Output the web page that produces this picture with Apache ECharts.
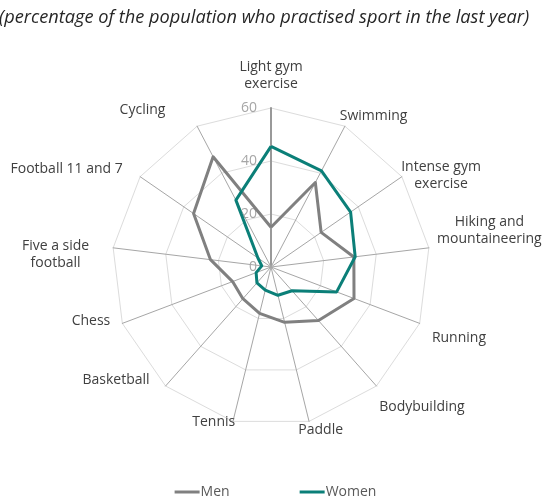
<!DOCTYPE html>
<html>
<head>
<meta charset="utf-8">
<script src="https://cdn.jsdelivr.net/npm/echarts@6/dist/echarts.min.js"></script>
<style>
  html, body { margin: 0; padding: 0; background: #fff; }
  #chart { width: 551px; height: 497px; }
</style>
</head>
<body>
<div id="chart"></div>
<script>
// Sports, listed clockwise from the top of the radar
const sports = [
  'Light gym\nexercise', 'Swimming', 'Intense gym\nexercise', 'Hiking and\nmountaineering',
  'Running', 'Bodybuilding', 'Paddle', 'Tennis', 'Basketball', 'Chess',
  'Five a side\nfootball', 'Football 11 and 7', 'Cycling'
];
// Share of population (%) per sport, same order as above
const men   = [15, 36, 23, 31.5, 33.5, 27, 21.5, 18, 16, 15.5, 23, 35.5, 47];
const women = [45.5, 41, 36.5, 32, 26.5, 12, 11, 9, 8, 6, 3.5, 6, 28.5];
const seriesNames = ['Men', 'Women'];
const axisMax = 60;
const axisSplits = 3;

// Label placement: distance past the rim, and nudge [dx, dy] of each name
const nameLayout = [
  [32, [0, 0]], [23, [18, 10]], [33, [12, 18]], [62, [-1, -10]],
  [42, [0, 0]], [46, [15, -13]], [11, [9, -2]], [5, [-18, -4]],
  [28, [-31, -27]], [40, [6, -17]], [56, [-2, 13]], [65, [-20, 29]],
  [40, [-36, 19]]
];

const FONT = 'Open Sans';
const NAME_LINE = 17;

// The radar lays axes out counter-clockwise, so keep the first axis and reverse the rest
const order = [0].concat(sports.map((_, i) => i).slice(1).reverse());

const indicators = order.map(i => {
  const [gap, [dx, dy]] = nameLayout[i];
  const blockH = sports[i].split('\n').length * NAME_LINE;
  const ind = {
    name: sports[i],
    min: 0,
    max: axisMax,
    nameGap: gap,
    nameTextStyle: {
      align: 'center',
      verticalAlign: 'top',
      // top padding centres the block on the anchor and then moves it by dy
      padding: [dy - blockH / 2, Math.max(0, -2 * dx), 0, Math.max(0, 2 * dx)]
    }
  };
  if (i === 0) {
    ind.axisLabel = {
      show: true,
      color: '#a6a6a6',
      fontSize: 14,
      fontFamily: FONT,
      align: 'right',
      margin: 14
    };
    ind.axisLine = { lineStyle: { color: '#999999', width: 2 } };
  }
  return ind;
});

const reorder = arr => order.map(i => arr[i]);

const chart = echarts.init(document.getElementById('chart'), null, { renderer: 'canvas' });
chart.setOption({
  animation: false,
  backgroundColor: '#ffffff',
  title: {
    text: '(percentage of the population who practised sport in the last year)',
    left: -6,
    top: 4,
    textStyle: {
      fontFamily: FONT,
      fontStyle: 'italic',
      fontWeight: 'normal',
      fontSize: 18.2,
      color: '#262626'
    }
  },
  legend: {
    data: seriesNames.map(n => ({ name: n, icon: 'rect' })),
    bottom: -7,
    left: 'center',
    itemWidth: 25,
    itemHeight: 3,
    itemGap: 70,
    textStyle: { fontFamily: FONT, fontSize: 14, color: '#595959', padding: [0, 0, 0, -4] }
  },
  radar: {
    center: [271, 267],
    radius: 159,
    startAngle: 90,
    splitNumber: axisSplits,
    shape: 'polygon',
    indicator: indicators,
    axisName: {
      color: '#404040',
      fontFamily: FONT,
      fontSize: 14,
      lineHeight: NAME_LINE
    },
    axisLine: { lineStyle: { color: '#a6a6a6', width: 1 } },
    splitLine: { lineStyle: { color: '#dcdcdc', width: 1 } },
    splitArea: { show: false },
    axisTick: { show: false },
    axisLabel: { show: false }
  },
  series: [{
    type: 'radar',
    symbol: 'none',
    data: [
      { name: seriesNames[0], value: reorder(men),
        lineStyle: { color: '#808080', width: 3 }, itemStyle: { color: '#808080' } },
      { name: seriesNames[1], value: reorder(women),
        lineStyle: { color: '#0b7f78', width: 3 }, itemStyle: { color: '#0b7f78' } }
    ]
  }]
});
</script>
</body>
</html>
